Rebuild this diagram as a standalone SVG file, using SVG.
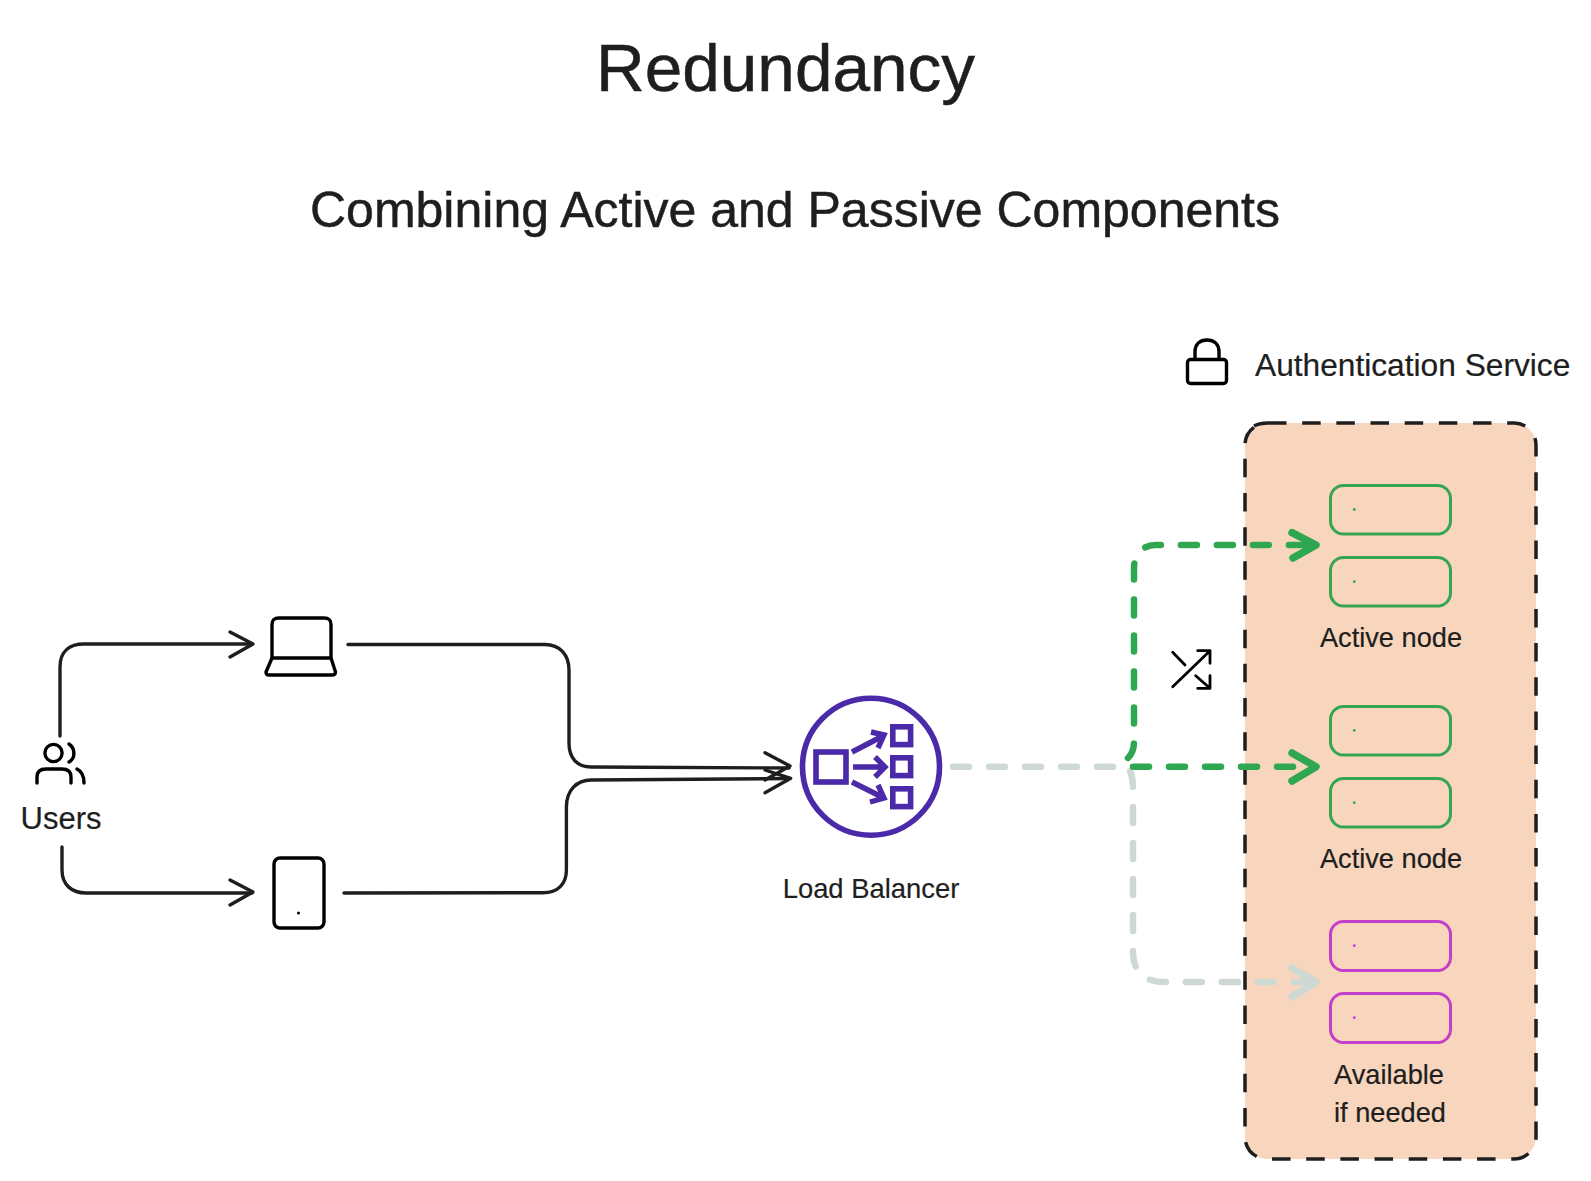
<svg xmlns="http://www.w3.org/2000/svg" width="1591" height="1181" viewBox="0 0 1591 1181">
<style>
text{font-family:"Liberation Sans",Arial,sans-serif;fill:#1e1e1e}
.t{text-anchor:middle;stroke:#1e1e1e;stroke-width:.5}
.lbl{font-size:27.2px;text-anchor:middle;stroke:#1e1e1e;stroke-width:.2}
.ln{fill:none;stroke:#1e1e1e;stroke-width:3.4;stroke-linecap:round;stroke-linejoin:round}
.ic{fill:none;stroke:#000;stroke-width:3.4;stroke-linecap:round;stroke-linejoin:round}
.gd{fill:none;stroke:#2fa650;stroke-width:6.5;stroke-linecap:round;stroke-dasharray:16 20}
.gy{fill:none;stroke:#cdd9d2;stroke-width:6.5;stroke-linecap:round;stroke-dasharray:16 20}
.gh{fill:none;stroke:#2fa650;stroke-width:7.5;stroke-linecap:round;stroke-linejoin:round}
.yh{fill:none;stroke:#cdd9d2;stroke-width:7.5;stroke-linecap:round;stroke-linejoin:round}
.nd{fill:none;stroke-width:3}
.g{stroke:#35a552}.p{stroke:#c53dcb}
.dg{fill:#35a552}.dp{fill:#c53dcb}
.lb{fill:none;stroke:#4a2aa8;stroke-width:5.6}
.lbh{fill:none;stroke:#4a2aa8;stroke-width:5.4;stroke-linejoin:miter}
.bx{fill:none;stroke:#1e1e1e;stroke-width:3.5}
</style>
<text class="t" x="785.5" y="91" font-size="67.5">Redundancy</text>
<text class="t" x="795" y="227" font-size="50">Combining Active and Passive Components</text>
<g id="auth-label">
<path class="ic" d="M1195 359V352C1195 344 1200 340 1207 340S1219 344 1219 352V359"/>
<rect class="ic" x="1187.5" y="359.5" width="39" height="24" rx="3"/>
<text x="1255" y="376" font-size="31.7" stroke="#1e1e1e" stroke-width=".2">Authentication Service</text>
</g>
<g id="auth-service">
<rect x="1245" y="423" width="291" height="736" rx="22" fill="#f8d6bd"/>
<rect class="bx" x="1245" y="423" width="291" height="736" rx="22" stroke-dasharray="18.5 15.67" stroke-dashoffset="-1"/>
<path class="bx" d="M1254 426C1258 424 1262 423 1268 423"/>
</g>
<g id="users">
<circle class="ic" cx="53.5" cy="753" r="8.6"/>
<path class="ic" d="M69 744C75 748 76 758 69 762"/>
<path class="ic" d="M37 783V777C37 772 40 769 46 769H62C68 769 71 772 71 777V783"/>
<path class="ic" d="M77 769C81 771 84 775 84 783"/>
<text class="t" x="61" y="829" font-size="31" style="stroke-width:.2">Users</text>
</g>
<g id="laptop">
<path class="ic" d="M272 658V625C272 620 274 618 279 618H324C329 618 331 620 331 625V658M272 658H331"/>
<path class="ic" d="M272 658L266 672C266 674 267 675 269 675H332C334 675 335.5 674 335.5 672L331 658"/>
</g>
<g id="tablet">
<rect class="ic" x="274" y="858" width="50" height="70" rx="6"/>
<circle cx="298.5" cy="913" r="1.5" fill="#000"/>
</g>
<g id="load-balancer">
<circle class="lb" cx="871" cy="766.7" r="68.5"/>
<rect class="lb" x="816" y="752" width="30" height="30"/>
<rect class="lb" x="892.8" y="726.8" width="17.8" height="17.8"/>
<rect class="lb" x="892.8" y="757.8" width="17.8" height="17.8"/>
<rect class="lb" x="892.8" y="788.8" width="17.8" height="17.8"/>
<path class="lbh" d="M852 752L882 736.5M871 732L884 735L878 748M853 767H885M875 757L885 767L875 777M852 782L882 797M878 785L884 798L870 802"/>
<text class="lbl" x="871" y="897.5" style="font-size:27.4px">Load Balancer</text>
</g>
<g id="node-active-1">
<rect class="nd g" x="1330.5" y="485.5" width="120" height="48.5" rx="13"/>
<circle class="dg" cx="1354.3" cy="509.5" r="1.4"/>
<rect class="nd g" x="1330.5" y="557.5" width="120" height="48.5" rx="13"/>
<circle class="dg" cx="1354.3" cy="581.7" r="1.4"/>
<text class="lbl" x="1391" y="647">Active node</text>
</g>
<g id="node-active-2">
<rect class="nd g" x="1330.5" y="706.5" width="120" height="48.5" rx="13"/>
<circle class="dg" cx="1354.3" cy="730.3" r="1.4"/>
<rect class="nd g" x="1330.5" y="778.5" width="120" height="48.5" rx="13"/>
<circle class="dg" cx="1354.3" cy="802.7" r="1.4"/>
<text class="lbl" x="1391" y="868">Active node</text>
</g>
<g id="node-standby">
<rect class="nd p" x="1330.5" y="921.5" width="120" height="49" rx="13"/>
<circle class="dp" cx="1354.3" cy="945.7" r="1.4"/>
<rect class="nd p" x="1330.5" y="993.5" width="120" height="49" rx="13"/>
<circle class="dp" cx="1354.3" cy="1017.7" r="1.4"/>
<text class="lbl" x="1389" y="1083.5">Available</text>
<text class="lbl" x="1390" y="1121.5">if needed</text>
</g>
<g id="shuffle">
<path class="ic" d="M1172.7 686.7L1210 650.7M1197.7 650.7H1210V663.3M1172.7 652.3L1185 665M1195.7 675.7L1210 688.3M1197.7 688.3H1210V675.7" style="stroke-width:2.8"/>
</g>
<g id="connectors">
<path class="ln" d="M60 736V667C60 651 70 644 84 644L252 644"/>
<path class="ln" d="M230 632L253 644L230 657"/>
<path class="ln" d="M62 847V870C62 885 72 893 86 893L252 893"/>
<path class="ln" d="M230 880L253 892L230 905"/>
<path class="ln" d="M348 644.5H545C560 644.5 569 655 569 670V743C569 758 577 767 591 767L789 768"/>
<path class="ln" d="M344 893L543 892.7C558 892.7 566.4 884 566.4 870V807C566.4 790 577 780 591 780L789 778.5"/>
<path class="ln" d="M765 752.7L790 766L765 780"/>
<path class="ln" d="M765 770L790.7 778.3L765 792.7"/>
<path class="gy" d="M953 766.7H1128C1131 772 1133 778 1133 788V953C1133 966 1140 982 1163 982H1312"/>
<path class="yh" d="M1292 968L1316 982L1292 997"/>
<path class="gd" d="M1133 766.7H1312"/>
<path class="gh" d="M1292 753L1316 766.7L1292 781"/>
<path class="gd" d="M1128 758C1131 755 1134 750 1134 742V568C1134 556 1142 545 1155 545H1312"/>
<path class="gh" d="M1292 532.7L1316 545L1293 558"/>
</g>
</svg>
